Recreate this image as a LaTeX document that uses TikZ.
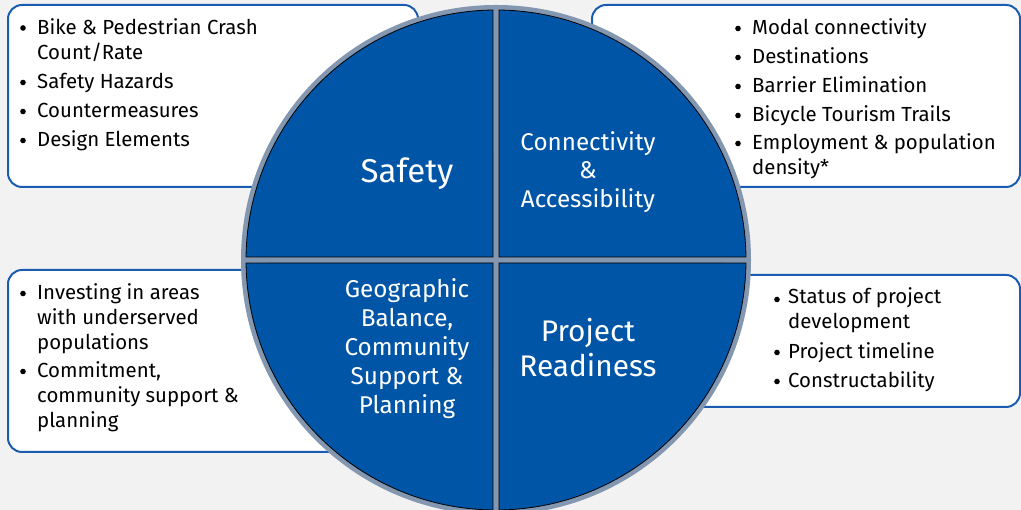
\documentclass[tikz,border=0pt]{standalone}
\usepackage{fontspec}
\setmainfont{Fira Sans}
\usetikzlibrary{calc}
\definecolor{bgc}{HTML}{F2F2F2}
\definecolor{boxline}{HTML}{1A5CB0}
\definecolor{quarterfill}{HTML}{0055A6}
\definecolor{halo}{HTML}{8497B0}
\tikzset{
  listbox/.style={draw=boxline, line width=2pt, fill=white, rounded corners=14pt},
  quarter/.style={fill=quarterfill, draw=black, line width=0.8pt},
  item/.style={anchor=base west, align=left, inner sep=0pt, font=\fontsize{20.4}{25}\selectfont},
  bul/.style={circle, fill=black, inner sep=0pt, minimum size=5.6pt},
  big/.style={text=white, align=center, inner sep=0pt}
}
\begin{document}
\begin{tikzpicture}[x=1pt,y=1pt]
\useasboundingbox (0,0) rectangle (1021,510);
\fill[bgc] (0,0) rectangle (1021,510);
\begin{scope}
\clip (0,0) rectangle (1021,510);
% boxes
\draw[listbox] (8,323) rectangle (418,505);
\draw[listbox] (592,323) rectangle (1020,505);
\draw[listbox] (8,58) rectangle (420,240);
\draw[listbox] (600,103) rectangle (1020,235);
% circle
\coordinate (O) at (496,250);
\fill[halo] (O) circle[radius=255pt];
\draw[quarter] ($(O)+(-3,3)$) -- ($(O)+(90.69:250)$) arc[start angle=90.69, end angle=179.31, radius=250pt] -- cycle;
\draw[quarter] ($(O)+(3,3)$) -- ($(O)+(89.31:250)$) arc[start angle=89.31, end angle=0.69, radius=250pt] -- cycle;
\draw[quarter] ($(O)+(-3,-3)$) -- ($(O)+(269.31:250)$) arc[start angle=269.31, end angle=180.69, radius=250pt] -- cycle;
\draw[quarter] ($(O)+(3,-3)$) -- ($(O)+(270.69:250)$) arc[start angle=270.69, end angle=359.31, radius=250pt] -- cycle;
\end{scope}
% circle labels
\node[big, font=\fontsize{33}{40}\selectfont] (safety) at (407,336) {Safety};
\node[big, font=\fontsize{24.2}{28.5}\selectfont] (conn) at (588,338) {Connectivity\\\&\\Accessibility};
\node[big, font=\fontsize{29.8}{35}\selectfont] (ready) at (588,162) {Project\\Readiness};
\node[big, font=\fontsize{24.3}{29}\selectfont] (geo) at (407,161) {Geographic\\Balance,\\Community\\Support \&\\Planning};
% top-left list
\node[bul] (tlb1) at (23,482) {};
\node[item] (tl1) at (37,450) {Bike \& Pedestrian Crash\\Count/Rate};
\node[bul] (tlb2) at (23,427.5) {};
\node[item] (tl2) at (37,421) {Safety Hazards};
\node[bul] (tlb3) at (23,398.5) {};
\node[item] (tl3) at (37,392) {Countermeasures};
\node[bul] (tlb4) at (23,369.5) {};
\node[item] (tl4) at (37,363) {Design Elements};
% top-right list
\node[bul] (trb1) at (738,481.5) {};
\node[item] (tr1) at (752,475) {Modal connectivity};
\node[bul] (trb2) at (738,452.5) {};
\node[item] (tr2) at (752,446) {Destinations};
\node[bul] (trb3) at (738,423.5) {};
\node[item] (tr3) at (752,417) {Barrier Elimination};
\node[bul] (trb4) at (738,394.5) {};
\node[item] (tr4) at (752,388) {Bicycle Tourism Trails};
\node[bul] (trb5) at (738,366.5) {};
\node[item] (tr5) at (752,335) {Employment \& population\\density*};
% bottom-left list
\node[bul] (blb1) at (23,216.5) {};
\node[item] (bl1) at (37,160) {Investing in areas\\with underserved\\populations};
\node[bul] (blb2) at (23,138.5) {};
\node[item] (bl2) at (37,82) {Commitment,\\community support \&\\planning};
% bottom-right list
\node[bul] (brb1) at (777,210.5) {};
\node[item] (br1) at (788,181) {Status of project\\development};
\node[bul] (brb2) at (777,157.5) {};
\node[item] (br2) at (788,151) {Project timeline};
\node[bul] (brb3) at (777,128.5) {};
\node[item] (br3) at (788,122) {Constructability};
\end{tikzpicture}
\end{document}
